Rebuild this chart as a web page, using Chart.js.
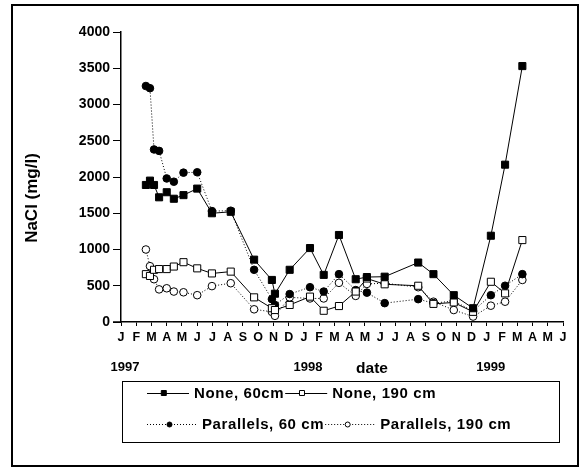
<!DOCTYPE html>
<html>
<head>
<meta charset="utf-8">
<script src="https://cdn.jsdelivr.net/npm/chart.js"></script>
<style>
  body { margin: 0; background: #fff; }
  #wrap { width: 585px; height: 469px; }
</style>
</head>
<body>
<div id="wrap"><canvas id="chart" width="585" height="469"></canvas></div>
<script>
// month letters for the x ticks, years under them
const monthLetters = ['J', 'F', 'M', 'A', 'M', 'J', 'J', 'A', 'S', 'O', 'N', 'D'];
const yearLabels = ['1997', '1998', '1999'];

// sampling dates (same for all four series)
const sampleDates = [
  '1997-02-20', '1997-02-28', '1997-03-06', '1997-03-16', '1997-04-01', '1997-04-15',
  '1997-05-04', '1997-06-01', '1997-06-30', '1997-08-07', '1997-09-23', '1997-10-28',
  '1997-11-04', '1997-12-03', '1998-01-13', '1998-02-10', '1998-03-10', '1998-04-13',
  '1998-05-05', '1998-06-10', '1998-08-16', '1998-09-16', '1998-10-26', '1998-12-04',
  '1999-01-09', '1999-02-07', '1999-03-11'
];

// NaCl (mg/l)
const none60 = [1890, 1950, 1890, 1720, 1790, 1700, 1750, 1840, 1500, 1520, 860, 580,
  390, 720, 1020, 650, 1200, 590, 620, 625, 820, 660, 370, 190, 1190, 2170, 3530];
const none190 = [660, 635, 720, 730, 730, 765, 825, 740, 670, 695, 340, 190,
  165, 235, 350, 155, 220, 420, 600, 520, 500, 250, 270, 140, 555, 395, 1130];
const par60 = [3255, 3225, 2380, 2360, 1980, 1935, 2060, 2065, 1530, 1535, 720, 315,
  235, 385, 480, 420, 660, 440, 405, 260, 315, 260, 290, 150, 370, 500, 660];
const par190 = [1000, 770, 590, 450, 465, 420, 410, 370, 495, 535, 175, 140,
  85, 340, 325, 325, 540, 360, 525, 535, 480, 280, 165, 75, 225, 280, 580];

const FONT = '"Liberation Sans", Arial, sans-serif';

function monthIndex(d) {
  const [y, m, day] = d.split('-').map(Number);
  return (y - 1997) * 12 + (m - 1) + (day - 1) / 30;
}

function toPoints(vals) {
  return vals.map((v, i) => ({ x: monthIndex(sampleDates[i]), y: v }));
}

const seriesDefs = [
  { label: 'None, 60cm', data: none60, style: 'rect', fill: '#000', dash: [] },
  { label: 'None, 190 cm', data: none190, style: 'rect', fill: '#fff', dash: [] },
  { label: 'Parallels, 60 cm', data: par60, style: 'circle', fill: '#000', dash: [1, 2] },
  { label: 'Parallels, 190 cm', data: par190, style: 'circle', fill: '#fff', dash: [1, 2] }
];

const datasets = seriesDefs.map(s => ({
  label: s.label,
  data: toPoints(s.data),
  showLine: true,
  borderColor: '#000',
  borderWidth: 1,
  borderDash: s.dash,
  pointStyle: s.style,
  pointRadius: s.style === 'rect' ? 5 : 3.8,
  pointBackgroundColor: s.fill,
  pointBorderColor: '#000',
  pointBorderWidth: 1
}));

// frame, axis title, year labels, "date" and the boxed legend
const decor = {
  id: 'decor',
  afterDraw(chart) {
    const ctx = chart.ctx;
    const xs = chart.scales.x;
    const area = chart.chartArea;
    ctx.save();
    ctx.strokeStyle = '#000';
    ctx.lineWidth = 2;
    ctx.strokeRect(12, 5, 566, 461);

    // x axis runs a little past the y axis
    ctx.lineWidth = 1.5;
    ctx.beginPath();
    ctx.moveTo(area.left - 8, area.bottom);
    ctx.lineTo(area.left, area.bottom);
    ctx.stroke();

    ctx.fillStyle = '#000';
    ctx.textAlign = 'center';
    ctx.textBaseline = 'middle';

    ctx.save();
    ctx.translate(32, 198);
    ctx.rotate(-Math.PI / 2);
    ctx.font = 'bold 17px ' + FONT;
    ctx.fillText('NaCl (mg/l)', 0, 0);
    ctx.restore();

    ctx.font = 'bold 13px ' + FONT;
    yearLabels.forEach((y, i) => {
      ctx.fillText(y, xs.getPixelForValue(i * 12) + 4, 367);
    });
    ctx.font = 'bold 15.5px ' + FONT;
    ctx.fillText('date', 372, 369);

    // legend
    ctx.lineWidth = 1;
    ctx.strokeRect(122.5, 381.5, 437, 61);
    ctx.font = 'bold 15px ' + FONT;
    ctx.letterSpacing = '0.6px';
    ctx.textAlign = 'left';
    const rows = [393, 424];
    const sampleLen = [42, 50];
    for (let r = 0; r < 2; r++) {
      let x = 147;
      const len = sampleLen[r];
      for (let c = 0; c < 2; c++) {
        const s = seriesDefs[r * 2 + c];
        const y = rows[r];
        ctx.beginPath();
        ctx.setLineDash(s.dash);
        ctx.moveTo(x, y + 0.5);
        ctx.lineTo(x + len, y + 0.5);
        ctx.stroke();
        ctx.setLineDash([]);
        ctx.beginPath();
        if (s.style === 'rect') {
          ctx.rect(x + len * 0.4 - 2.5, y - 2.5, 5, 5);
        } else {
          ctx.arc(x + len * 0.45, y + 0.5, 2.5, 0, Math.PI * 2);
        }
        ctx.fillStyle = s.fill;
        ctx.fill();
        ctx.stroke();
        ctx.fillStyle = '#000';
        ctx.fillText(s.label, x + len + 5, y + 1);
        x += len + 5 + ctx.measureText(s.label).width + 1;
      }
    }
    ctx.restore();
  }
};

new Chart(document.getElementById('chart'), {
  type: 'scatter',
  data: { datasets: datasets },
  options: {
    responsive: false,
    animation: false,
    layout: { padding: { left: 0, top: 32, right: 22, bottom: 117 } },
    plugins: { legend: { display: false }, tooltip: { enabled: false } },
    scales: {
      x: {
        type: 'linear',
        min: 0,
        max: 29,
        afterFit: s => { s.height = 30; },
        ticks: {
          stepSize: 1,
          autoSkip: false,
          maxRotation: 0,
          padding: 4,
          color: '#000',
          font: { family: FONT, size: 12.5, weight: 'bold' },
          callback: v => monthLetters[v % 12]
        },
        grid: { drawOnChartArea: false, color: '#000', tickLength: 4 },
        border: { color: '#000', width: 1.5 }
      },
      y: {
        min: 0,
        max: 4000,
        afterFit: s => { s.width = 121; },
        ticks: {
          stepSize: 500,
          padding: 3,
          color: '#000',
          font: { family: FONT, size: 14, weight: 'bold' },
          callback: v => String(v)
        },
        grid: { drawOnChartArea: false, color: '#000', tickLength: 8 },
        border: { color: '#000', width: 1.5 }
      }
    }
  },
  plugins: [decor]
});
</script>
</body>
</html>
